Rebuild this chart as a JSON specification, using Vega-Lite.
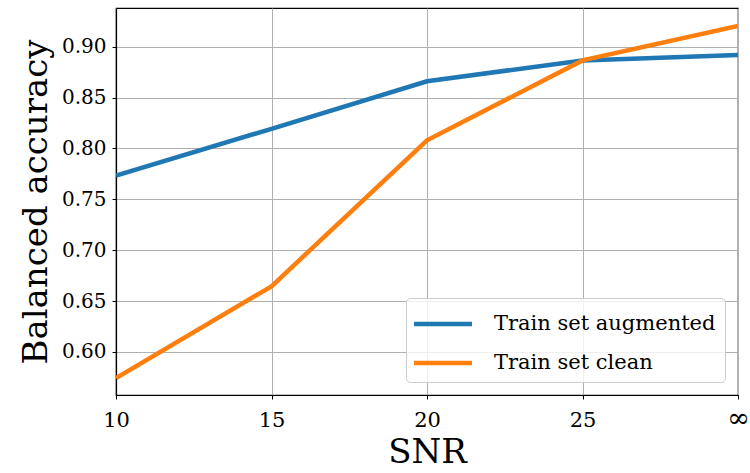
{
  "$schema": "https://vega.github.io/schema/vega-lite/v6.json",
  "width": 622,
  "height": 387,
  "autosize": {"type": "none"},
  "padding": {"left": 116, "top": 8, "right": 12, "bottom": 78},
  "background": "white",
  "config": {
    "font": "DejaVu Serif",
    "view": {"stroke": "black", "strokeWidth": 1.2}
  },
  "data": {
    "values": [
      {"snr": "10", "series": "Train set augmented", "acc": 0.7734},
      {"snr": "15", "series": "Train set augmented", "acc": 0.8193},
      {"snr": "20", "series": "Train set augmented", "acc": 0.8660},
      {"snr": "25", "series": "Train set augmented", "acc": 0.8865},
      {"snr": "∞", "series": "Train set augmented", "acc": 0.8918},
      {"snr": "10", "series": "Train set clean", "acc": 0.5744},
      {"snr": "15", "series": "Train set clean", "acc": 0.6645},
      {"snr": "20", "series": "Train set clean", "acc": 0.8080},
      {"snr": "25", "series": "Train set clean", "acc": 0.8865},
      {"snr": "∞", "series": "Train set clean", "acc": 0.9204}
    ]
  },
  "mark": {"type": "line", "strokeWidth": 4.5, "clip": true},
  "encoding": {
    "x": {
      "field": "snr",
      "type": "ordinal",
      "sort": ["10", "15", "20", "25", "∞"],
      "scale": {"type": "point", "padding": 0},
      "axis": {
        "title": "SNR",
        "titleFontSize": 34,
        "titleFontWeight": "normal",
        "titleColor": "black",
        "titlePadding": 4,
        "labelAngle": 0,
        "labelBaseline": "alphabetic",
        "labelFontSize": {"condition": {"test": "datum.value === '∞'", "value": 27}, "value": 21},
        "labelColor": "black",
        "labelPadding": 27,
        "domainColor": "black",
        "domainWidth": 1.2,
        "tickColor": "black",
        "tickSize": 4,
        "grid": true,
        "gridColor": "#b0b0b0",
        "gridWidth": 1
      }
    },
    "y": {
      "field": "acc",
      "type": "quantitative",
      "scale": {"domain": [0.5577, 0.938], "zero": false, "nice": false},
      "axis": {
        "title": "Balanced accuracy",
        "titleFontSize": 34,
        "titleFontWeight": "normal",
        "titleColor": "black",
        "titlePadding": 8,
        "values": [0.6, 0.65, 0.7, 0.75, 0.8, 0.85, 0.9],
        "format": ".2f",
        "labelFontSize": 20,
        "labelColor": "black",
        "labelPadding": 6,
        "domainColor": "black",
        "domainWidth": 1.2,
        "tickColor": "black",
        "tickSize": 4,
        "grid": true,
        "gridColor": "#b0b0b0",
        "gridWidth": 1
      }
    },
    "color": {
      "field": "series",
      "type": "nominal",
      "scale": {"domain": ["Train set augmented", "Train set clean"], "range": ["#1f77b4", "#ff7f0e"]},
      "legend": {
        "title": null,
        "orient": "bottom-right",
        "offset": 13,
        "symbolType": "M-2,0H2",
        "symbolSize": 841,
        "symbolStrokeWidth": 4.5,
        "symbolOffset": 11,
        "labelFontSize": 21,
        "labelColor": "black",
        "labelOffset": 34,
        "labelLimit": 400,
        "rowPadding": 12,
        "padding": 9,
        "fillColor": "rgba(255,255,255,0.8)",
        "strokeColor": "#cccccc",
        "cornerRadius": 4
      }
    }
  }
}
